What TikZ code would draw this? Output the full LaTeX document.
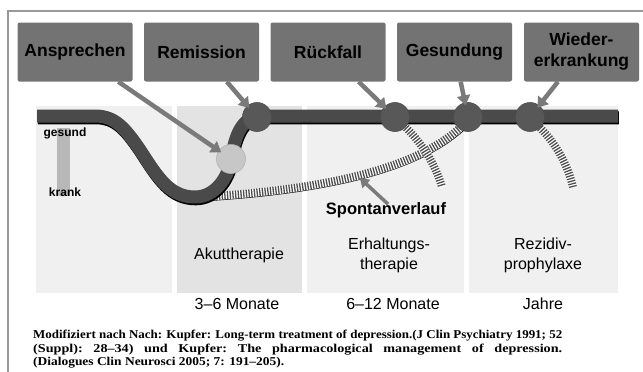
\documentclass[tikz,border=0pt]{standalone}
\usepackage{fontspec}
\setmainfont{Liberation Sans}
\newfontfamily\quellfont{Liberation Serif}
\usetikzlibrary{arrows.meta}

\definecolor{boxgrau}{HTML}{737373}
\definecolor{liniengrau}{HTML}{4A4A4A}
\definecolor{punktgrau}{HTML}{585858}
\definecolor{pfeilgrau}{HTML}{7A7A7A}
\definecolor{feldgrau}{HTML}{F0F0F0}
\definecolor{akutgrau}{HTML}{E3E3E3}
\definecolor{balkengrau}{HTML}{B8B8B8}
\definecolor{schraffgrau}{HTML}{4E4E4E}

% Quellzeile: auf volle Breite gedehnt
\newcommand{\quellzeile}[1]{\resizebox{529pt}{\height}{#1}}

\tikzset{
  ereignis/.style={fill=boxgrau, rounded corners=2pt, minimum width=115pt,
    minimum height=59pt, inner sep=2pt, align=center,
    font=\bfseries\fontsize{17.5}{21}\selectfont},
  punkt/.style={circle, minimum size=29pt, inner sep=0pt, fill=punktgrau,
    draw=black!70, line width=0.6pt},
  zeiger/.style={draw=pfeilgrau, line width=4.5pt,
    -{Triangle[length=10pt,width=13pt]}, shorten >=-3pt},
  verlauf/.style={draw=liniengrau, line width=13pt,
    preaction={draw=black, line width=13pt,
      transform canvas={xshift=0.8pt,yshift=-1.8pt}}},
  schraffur/.style={draw=white, line width=8pt,
    postaction={draw=schraffgrau, line width=8pt, dash pattern=on 1.3pt off 1.4pt}},
  phase/.style={font=\fontsize{16}{20}\selectfont, align=center},
  klein/.style={font=\bfseries\fontsize{12}{14}\selectfont, inner sep=1pt},
}

\begin{document}
\begin{tikzpicture}[x=1pt,y=-1pt]
  \useasboundingbox (0,0) rectangle (643,372);

  % Felder der Therapiephasen
  \fill[feldgrau] (36,106) rectangle (172,293);
  \fill[akutgrau] (177,106) rectangle (302,293);
  \fill[feldgrau] (307,106) rectangle (464,293);
  \fill[feldgrau] (469,106) rectangle (618,293);

  % Rahmen
  \draw[black!40, line width=1.2pt] (643,11) -- (8,11) -- (8,372);

  % gesund / krank
  \fill[balkengrau] (57,128) rectangle (70,196);
  \node[klein] (gesund) at (65,133) {gesund};
  \node[klein] (krank) at (65,192) {krank};

  % Spontanverlauf und Rueckfaelle (schraffiert)
  \draw[black, line width=1.2pt] (200,201) .. controls (320,194) and (420,174) .. (468,126);
  \draw[schraffur] (200,197) .. controls (320,190) and (420,170) .. (466,122);
  \draw[schraffur] (402,124) .. controls (422,142) and (436,166) .. (442,187);
  \draw[schraffur] (536,124) .. controls (556,142) and (568,166) .. (573,187);

  % Verlauf unter Therapie
  \draw[verlauf] (37,116) -- (95,116) .. controls (115,116) and (125,128) .. (140,150)
    .. controls (158,178) and (170,197) .. (195,197)
    .. controls (215,197) and (228,178) .. (231,160)
    .. controls (235,135) and (242,116) .. (262,116) -- (618,116);

  % Ereignispunkte
  \node[punkt, fill=black!22, draw=black!30] (pAnsprechen) at (231,159) {};
  \node[punkt] (pRemission) at (257,117) {};
  \node[punkt] (pRueckfall) at (395,117) {};
  \node[punkt] (pGesundung) at (468,117) {};
  \node[punkt] (pWieder) at (530,117) {};

  % Ereigniskaesten
  \node[ereignis] (ansprechen) at (75,52) {Ansprechen};
  \node[ereignis] (remission) at (201.5,52) {Remission};
  \node[ereignis] (rueckfall) at (328,52) {Rückfall};
  \node[ereignis] (gesundung) at (454.5,52) {Gesundung};
  \node[ereignis] (wieder) at (581.5,52) {Wieder-\\erkrankung};

  \draw[zeiger] (ansprechen) -- (pAnsprechen);
  \draw[zeiger] (remission) -- (pRemission);
  \draw[zeiger] (rueckfall) -- (pRueckfall);
  \draw[zeiger] (gesundung) -- (pGesundung);
  \draw[zeiger] (wieder) -- (pWieder);

  % Spontanverlauf
  \node[font=\bfseries\fontsize{16.5}{20}\selectfont, inner sep=1pt] (spontan) at (386,210) {Spontanverlauf};
  \coordinate (sp) at (362,180);
  \draw[zeiger, line width=3.5pt, -{Triangle[length=9pt,width=11pt]}] (spontan.north) ++(2,3) -- (sp);

  % Phasen und Dauer
  \node[phase] (akut) at (239,255) {Akuttherapie};
  \node[phase] (erhaltung) at (389,255) {Erhaltungs-\\therapie};
  \node[phase] (rezidiv) at (543,255) {Rezidiv-\\prophylaxe};
  \node[phase] (dauer1) at (237,304) {3–6 Monate};
  \node[phase] (dauer2) at (393,304) {6–12 Monate};
  \node[phase] (dauer3) at (543,304) {Jahre};

  % Quelle
  \node[anchor=north west, inner sep=0pt, align=left,
    font=\quellfont\bfseries\fontsize{12}{13.5}\selectfont] (quelle) at (33,330)
    {\quellzeile{Modifiziert nach Nach: Kupfer: Long-term treatment of depression.(J Clin Psychiatry 1991; 52}\\
     \quellzeile{(Suppl):\ \ \ 28–34)\ \ \ und\ \ \ Kupfer:\ \ \ The\ \ \ pharmacological\ \ \ management\ \ \ of\ \ \ depression.}\\
     \scalebox{1.12}[1]{(Dialogues Clin Neurosci 2005; 7: 191–205).}};
\end{tikzpicture}
\end{document}
